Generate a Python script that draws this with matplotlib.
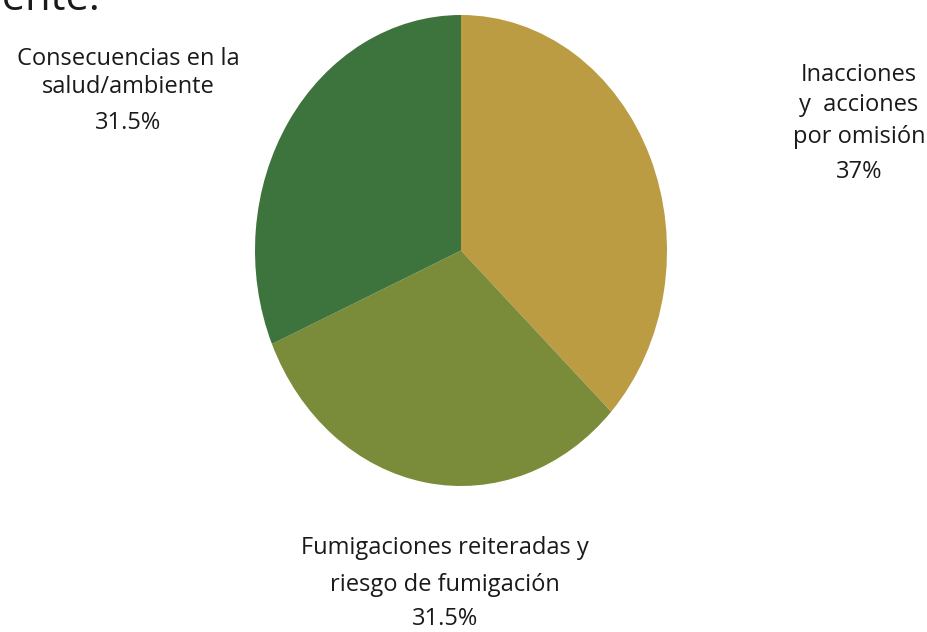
import matplotlib
matplotlib.use("Agg")
import matplotlib.pyplot as plt

# data
categories = ["Inacciones y acciones por omisión",
              "Fumigaciones reiteradas y riesgo de fumigación",
              "Consecuencias en la salud/ambiente"]
shares = [37, 31.5, 31.5]
colors = ["#BC9C42", "#7A8B3A", "#3D733D"]

# label lines as they are broken in the picture, with pixel centres
label_lines = [
    (["Inacciones", "y  acciones", "por omisión", "37%"], 859, [75, 105, 137, 172]),
    (["Fumigaciones reiteradas y", "riesgo de fumigación", "31.5%"], 445, [548, 585, 619]),
    (["Consecuencias en la", "salud/ambiente", "31.5%"], 128, [59, 87, 123]),
]

W, H = 928, 632
plt.rcParams['font.family'] = ['Open Sans', 'DejaVu Sans']

fig = plt.figure(figsize=(W / 100, H / 100), dpi=100)
fig.patch.set_facecolor("white")

# pie is stretched a bit taller than wide in the reference
ax = fig.add_axes([255 / W, (H - 486) / H, 412 / W, 471 / H])
ax.pie(shares, colors=colors, startangle=90, counterclock=False,
       wedgeprops=dict(linewidth=0))
ax.set_aspect("auto")
ax.set_xlim(-1, 1)
ax.set_ylim(-1, 1)
ax.axis("off")

for lines, cx, ys in label_lines:
    for line, y in zip(lines, ys):
        fig.text(cx / W, 1 - y / H, line, ha="center", va="center",
                 fontsize=17, color="#1a1a1a")

# title cut off at the top edge
fig.text(100 / W, 1 - 10 / H, "ambiente.", ha="right", va="baseline",
         fontsize=30, color="#1a1a1a")

fig.savefig("out.png", dpi=100)
